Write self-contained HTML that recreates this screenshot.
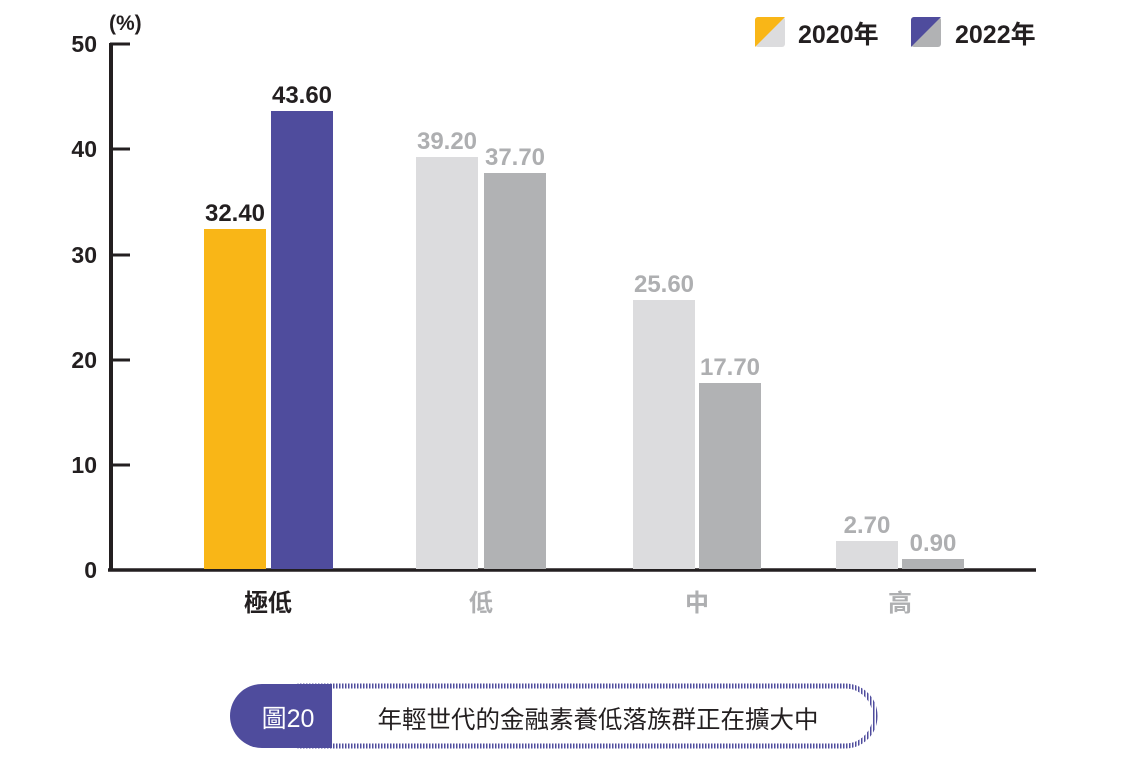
<!DOCTYPE html>
<html><head><meta charset="utf-8"><style>
html,body{margin:0;padding:0;background:#fff}
text{font-family:"Liberation Sans","Noto Sans CJK TC",sans-serif}
</style></head><body>
<svg width="1136" height="759" viewBox="0 0 1136 759" xmlns="http://www.w3.org/2000/svg">
<defs>
<pattern id="dots" width="3" height="3" patternUnits="userSpaceOnUse"><rect width="1.5" height="3" fill="#4f4c9d"/></pattern>
</defs>
<line x1="111" y1="43" x2="111" y2="570" stroke="#231f20" stroke-width="4"/>
<g stroke="#231f20" stroke-width="3">
<line x1="110" y1="44" x2="130" y2="44"/><line x1="110" y1="149" x2="130" y2="149"/>
<line x1="110" y1="255" x2="130" y2="255"/><line x1="110" y1="360" x2="130" y2="360"/>
<line x1="110" y1="465" x2="130" y2="465"/>
</g>
<line x1="108" y1="570" x2="1036" y2="570" stroke="#231f20" stroke-width="3.5"/>
<g font-size="23" font-weight="bold" fill="#231f20" text-anchor="end">
<text x="97" y="52">50</text><text x="97" y="157">40</text><text x="97" y="263">30</text>
<text x="97" y="368">20</text><text x="97" y="473">10</text><text x="97" y="578">0</text>
</g>
<text x="109" y="30" font-size="21" font-weight="bold" fill="#231f20">(%)</text>
<rect x="204" y="229" width="62" height="340" fill="#f9b617"/>
<rect x="271" y="111" width="62" height="458" fill="#4f4c9d"/>
<rect x="416" y="157" width="62" height="412" fill="#dcdcde"/>
<rect x="484" y="173" width="62" height="396" fill="#b1b2b4"/>
<rect x="633" y="300" width="62" height="269" fill="#dcdcde"/>
<rect x="699" y="383" width="62" height="186" fill="#b1b2b4"/>
<rect x="836" y="541" width="62" height="28" fill="#dcdcde"/>
<rect x="902" y="559" width="62" height="10" fill="#b1b2b4"/>
<g font-size="24" font-weight="bold" text-anchor="middle">
<text x="235" y="221" fill="#231f20">32.40</text>
<text x="302" y="103" fill="#231f20">43.60</text>
<text x="447" y="149" fill="#aeafb1">39.20</text>
<text x="515" y="165" fill="#aeafb1">37.70</text>
<text x="664" y="292" fill="#aeafb1">25.60</text>
<text x="730" y="375" fill="#aeafb1">17.70</text>
<text x="867" y="533" fill="#aeafb1">2.70</text>
<text x="933" y="551" fill="#aeafb1">0.90</text>
</g>
<g font-size="24" font-weight="bold" text-anchor="middle">
<text x="268" y="611" fill="#231f20">極低</text>
<text x="481" y="611" fill="#aeafb1">低</text>
<text x="697" y="611" fill="#aeafb1">中</text>
<text x="900" y="611" fill="#aeafb1">高</text>
</g>
<rect x="755" y="17" width="30" height="30" rx="3" fill="#dcdcde"/>
<path d="M758 17 H785 L755 47 V20 A3 3 0 0 1 758 17Z" fill="#f9b617"/>
<text x="798" y="43" font-size="25" font-weight="bold" fill="#231f20">2020年</text>
<rect x="911" y="17" width="30" height="30" rx="3" fill="#b1b2b4"/>
<path d="M914 17 H941 L911 47 V20 A3 3 0 0 1 914 17Z" fill="#4f4c9d"/>
<text x="955" y="43" font-size="25" font-weight="bold" fill="#231f20">2022年</text>
<path d="M300 686 H845 A30 30 0 0 1 845 746 H300 Z" fill="none" stroke="url(#dots)" stroke-width="5"/>
<path d="M262 684 H332 V748 H262 A32 32 0 0 1 262 684Z" fill="#4f4c9d"/>
<text x="288" y="727" font-size="25" fill="#fff" text-anchor="middle">圖20</text>
<text x="598" y="728" font-size="24.5" fill="#231f20" text-anchor="middle">年輕世代的金融素養低落族群正在擴大中</text>
</svg>
</body></html>
